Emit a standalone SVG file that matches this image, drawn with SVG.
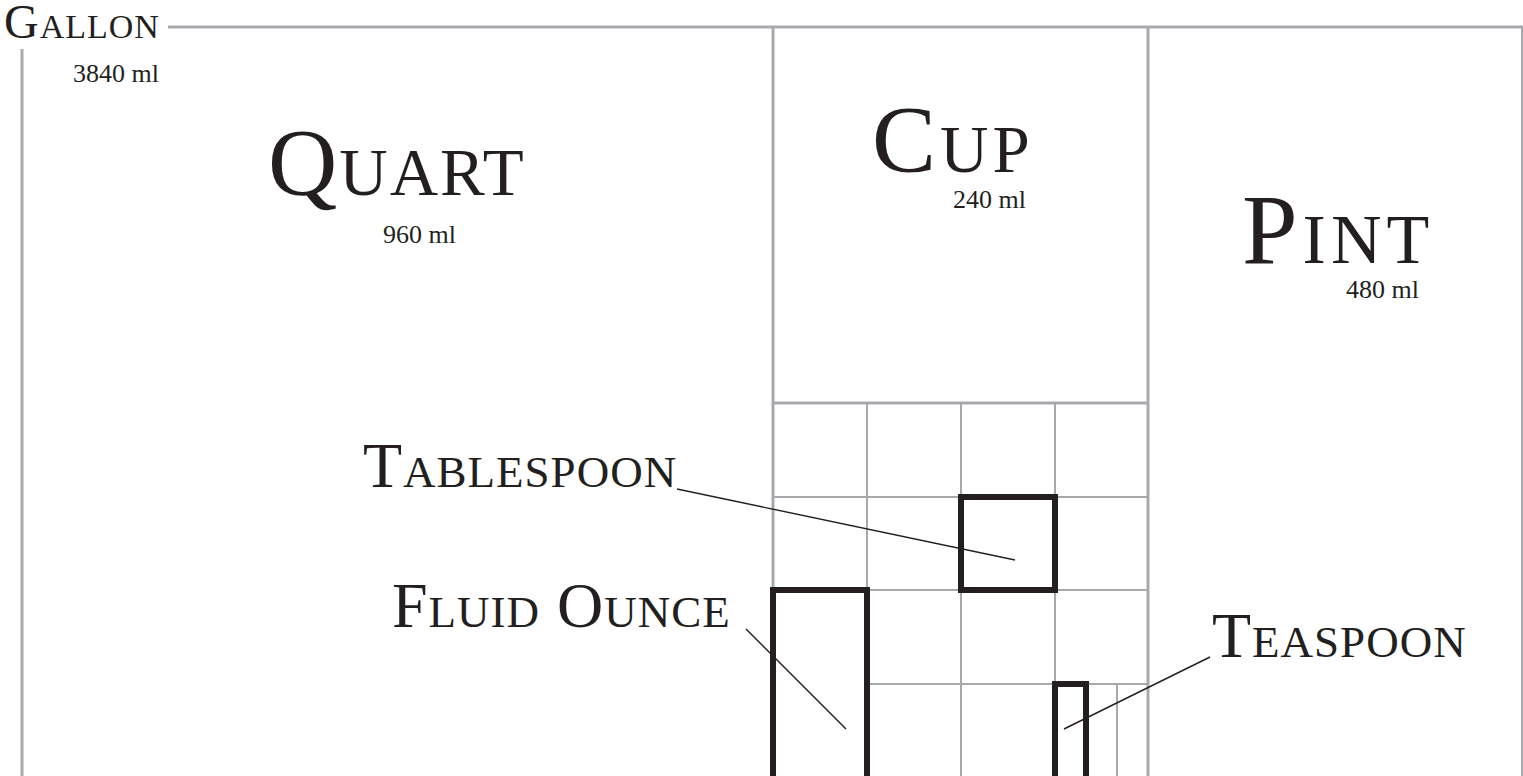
<svg xmlns="http://www.w3.org/2000/svg" width="1523" height="776" viewBox="0 0 1523 776">
<style>
.frame{stroke:#a7a9ac;stroke-width:3;fill:none}
.grid{stroke:#a7a9ac;stroke-width:2;fill:none}
.edge{stroke:#a7a9ac;stroke-width:2;fill:none}
.box{stroke:#231f20;stroke-width:6;fill:none}
.lead{stroke:#231f20;stroke-width:1.4;fill:none}
.title{font-family:"Liberation Serif","Times New Roman",serif;font-variant:small-caps;fill:#231f20}
.big{font-size:96px}
.mid{font-size:64px;letter-spacing:1px}
.ml{font-family:"Liberation Serif","Times New Roman",serif;font-size:26px;fill:#231f20}
</style>
<rect width="1523" height="776" fill="#ffffff"/>
<g id="gallon">
  <line class="frame" x1="168" y1="27" x2="1523" y2="27"/>
  <line class="frame" x1="22" y1="49" x2="22" y2="776"/>
  <line class="edge" x1="1522" y1="27" x2="1522" y2="776"/>
  <text class="title" x="4" y="38" font-size="48" letter-spacing="1">Gallon</text>
  <text class="ml" x="73" y="82" font-size="27">3840 ml</text>
</g>
<g id="quart">
  <text class="title big" x="268" y="195" letter-spacing="2">Quart</text>
  <text class="ml" x="383" y="243">960 ml</text>
</g>
<g id="cup">
  <line class="frame" x1="773" y1="27" x2="773" y2="776"/>
  <line class="frame" x1="1148" y1="27" x2="1148" y2="776"/>
  <line class="frame" x1="773" y1="403" x2="1148" y2="403"/>
  <text class="title big" x="872" y="172" letter-spacing="4">Cup</text>
  <text class="ml" x="953" y="208">240 ml</text>
</g>
<g id="pint">
  <text class="title" x="1242" y="263" font-size="100" letter-spacing="5">Pint</text>
  <text class="ml" x="1346" y="298">480 ml</text>
</g>
<g id="grid">
  <line class="grid" x1="867" y1="403" x2="867" y2="590"/>
  <line class="grid" x1="961" y1="403" x2="961" y2="776"/>
  <line class="grid" x1="1055" y1="403" x2="1055" y2="776"/>
  <line class="grid" x1="1117" y1="684" x2="1117" y2="776"/>
  <line class="grid" x1="773" y1="497" x2="1148" y2="497"/>
  <line class="grid" x1="773" y1="590" x2="1148" y2="590"/>
  <line class="grid" x1="867" y1="684" x2="1148" y2="684"/>
</g>
<g id="tablespoon">
  <rect class="box" x="961" y="497" width="94" height="93"/>
  <text class="title mid" x="363" y="487">Tablespoon</text>
</g>
<g id="fluid-ounce">
  <rect class="box" x="773" y="590" width="94" height="200"/>
  <text class="title mid" x="392" y="627" letter-spacing="0.5">Fluid Ounce</text>
</g>
<g id="teaspoon">
  <rect class="box" x="1055" y="684" width="31" height="110"/>
  <text class="title mid" x="1212" y="657">Teaspoon</text>
</g>
<g id="connectors">
  <line class="lead" x1="677" y1="489" x2="1015" y2="560"/>
  <line class="lead" x1="746" y1="629" x2="846" y2="729"/>
  <line class="lead" x1="1210" y1="657" x2="1064" y2="729"/>
</g>
</svg>
